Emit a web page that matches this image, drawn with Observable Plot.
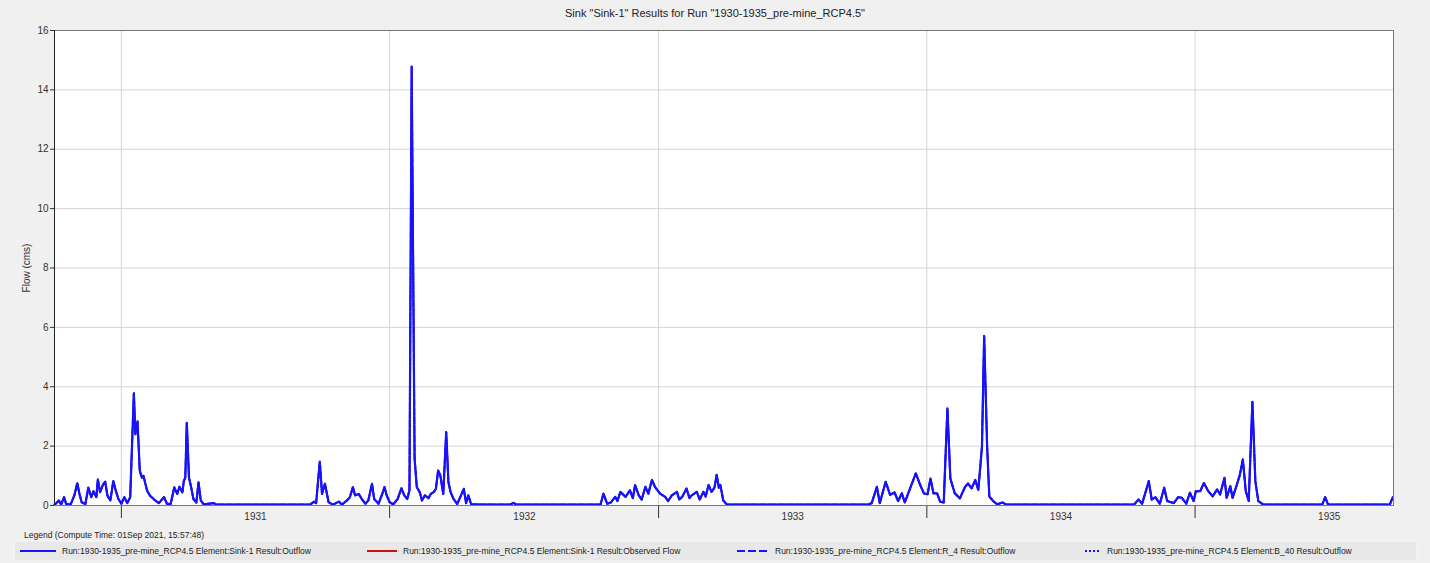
<!DOCTYPE html>
<html><head><meta charset="utf-8">
<script src="https://cdn.jsdelivr.net/npm/d3@7"></script>
<script src="https://cdn.jsdelivr.net/npm/@observablehq/plot@0.6"></script>
<style>
html,body{margin:0;padding:0}
body{background:#f0f0f0;font-family:"Liberation Sans",Arial,sans-serif;width:1430px;height:563px;overflow:hidden;position:relative}
#title{position:absolute;left:0;top:0;width:1430px;height:26px;line-height:27px;text-align:center;font-size:11px;color:#222}
#chart{position:absolute;left:0;top:24px}
#chart svg{display:block}
#legendTitle{position:absolute;left:24px;top:530px;font-size:8.5px;color:#222}
#legend{position:absolute;left:0;top:540px}
</style></head><body>
<div id="title">Sink "Sink-1" Results for Run "1930-1935_pre-mine_RCP4.5"</div>
<div id="chart"></div>
<div id="legendTitle">Legend (Compute Time: 01Sep 2021, 15:57:48)</div>
<div id="legend"></div>
<script>
// ---- data ----
const dates = [
"1930-10-02","1930-10-08","1930-10-11","1930-10-15","1930-10-18","1930-10-24","1930-10-29","1930-11-02","1930-11-05","1930-11-08",
"1930-11-13","1930-11-17","1930-11-21","1930-11-24","1930-11-28","1930-11-30","1930-12-03","1930-12-07","1930-12-10","1930-12-13",
"1930-12-17","1930-12-21","1930-12-25","1930-12-28","1931-01-01","1931-01-05","1931-01-09","1931-01-13","1931-01-18","1931-01-20",
"1931-01-23","1931-01-26","1931-01-29","1931-01-31","1931-02-05","1931-02-09","1931-02-16","1931-02-21","1931-02-28","1931-03-04",
"1931-03-09","1931-03-14","1931-03-18","1931-03-21","1931-03-25","1931-03-27","1931-03-29","1931-03-31","1931-04-03","1931-04-06",
"1931-04-09","1931-04-13","1931-04-16","1931-04-19","1931-04-23","1931-05-07","1931-05-10","1931-09-15","1931-09-20","1931-09-23",
"1931-09-28","1931-10-01","1931-10-05","1931-10-10","1931-10-16","1931-10-24","1931-10-28","1931-11-04","1931-11-08","1931-11-12",
"1931-11-15","1931-11-20","1931-11-24","1931-11-29","1931-12-03","1931-12-08","1931-12-11","1931-12-17","1931-12-22","1931-12-25",
"1931-12-28","1932-01-01","1932-01-06","1932-01-12","1932-01-17","1932-01-21","1932-01-25","1932-01-28","1932-01-31","1932-02-04",
"1932-02-07","1932-02-11","1932-02-14","1932-02-18","1932-02-23","1932-02-26","1932-03-01","1932-03-04","1932-03-07","1932-03-10",
"1932-03-14","1932-03-18","1932-03-21","1932-03-24","1932-03-28","1932-04-02","1932-04-11","1932-04-14","1932-04-17","1932-04-21",
"1932-06-13","1932-06-18","1932-06-21",
"1932-10-14","1932-10-18","1932-10-23","1932-10-28","1932-11-03","1932-11-06","1932-11-10","1932-11-17","1932-11-23","1932-11-27",
"1932-11-30","1932-12-05","1932-12-09","1932-12-14","1932-12-18","1932-12-23","1932-12-27","1933-01-03","1933-01-10","1933-01-14",
"1933-01-19","1933-01-26","1933-01-29","1933-02-02","1933-02-08","1933-02-12","1933-02-15","1933-02-22","1933-02-26","1933-03-03",
"1933-03-06","1933-03-10","1933-03-14","1933-03-18","1933-03-21","1933-03-24","1933-03-26","1933-03-30","1933-04-04",
"1933-10-13","1933-10-18","1933-10-25","1933-10-29","1933-11-06","1933-11-12","1933-11-18","1933-11-23","1933-11-28","1933-12-02",
"1933-12-10","1933-12-17","1933-12-23","1933-12-28","1934-01-02","1934-01-06","1934-01-10","1934-01-15","1934-01-19","1934-01-24",
"1934-01-29","1934-02-02","1934-02-08","1934-02-15","1934-02-22","1934-02-26","1934-03-03","1934-03-08","1934-03-12","1934-03-17",
"1934-03-20","1934-03-24","1934-03-27","1934-04-02","1934-04-07","1934-04-14","1934-04-19",
"1934-10-10","1934-10-16","1934-10-21","1934-10-30","1934-11-03","1934-11-08","1934-11-14","1934-11-20","1934-11-24","1934-12-03",
"1934-12-09","1934-12-14","1934-12-20","1934-12-25","1934-12-30","1935-01-02","1935-01-08","1935-01-13","1935-01-19","1935-01-25",
"1935-01-31","1935-02-04","1935-02-10","1935-02-13","1935-02-18","1935-02-21","1935-02-27","1935-03-03","1935-03-07","1935-03-11",
"1935-03-15","1935-03-20","1935-03-24","1935-03-28","1935-04-04","1935-06-23","1935-06-27","1935-07-01","1935-09-23","1935-09-27"
];
const flow = [
0.02,0.17,0.03,0.28,0.04,0.04,0.34,0.75,0.39,0.11,
0.05,0.60,0.28,0.48,0.28,0.88,0.45,0.70,0.80,0.34,
0.17,0.82,0.45,0.22,0.06,0.28,0.08,0.28,3.78,2.40,
2.83,1.17,0.94,1.00,0.50,0.33,0.17,0.08,0.28,0.06,
0.05,0.61,0.39,0.63,0.44,0.83,0.94,2.78,0.94,0.61,
0.22,0.10,0.78,0.17,0.04,0.08,0.03,0.03,0.13,0.08,
1.48,0.39,0.73,0.11,0.03,0.13,0.03,0.17,0.28,0.62,
0.34,0.39,0.22,0.06,0.17,0.73,0.22,0.06,0.39,0.62,
0.34,0.11,0.04,0.22,0.58,0.34,0.22,0.51,14.78,1.57,
0.62,0.45,0.17,0.34,0.25,0.39,0.45,0.56,1.18,1.01,
0.39,2.47,0.79,0.45,0.22,0.05,0.56,0.08,0.34,0.04,
0.03,0.09,0.03,
0.03,0.40,0.06,0.10,0.29,0.15,0.46,0.29,0.51,0.25,
0.69,0.34,0.20,0.63,0.40,0.86,0.63,0.40,0.29,0.15,
0.34,0.46,0.20,0.29,0.57,0.25,0.34,0.46,0.20,0.46,
0.30,0.69,0.46,0.60,1.03,0.60,0.69,0.17,0.03,
0.03,0.08,0.63,0.08,0.80,0.36,0.44,0.15,0.41,0.10,
0.63,1.08,0.69,0.41,0.38,0.91,0.41,0.41,0.13,0.10,
3.27,0.91,0.41,0.24,0.63,0.74,0.58,0.86,0.52,1.97,
5.71,2.02,0.30,0.13,0.04,0.10,0.03,
0.03,0.20,0.06,0.82,0.20,0.28,0.06,0.60,0.15,0.08,
0.28,0.26,0.06,0.43,0.15,0.48,0.48,0.76,0.48,0.31,
0.54,0.37,0.93,0.26,0.65,0.26,0.71,1.04,1.55,0.48,
0.15,3.49,0.82,0.15,0.03,0.03,0.28,0.03,0.03,0.28
];
const seriesNames = [
"Run:1930-1935_pre-mine_RCP4.5 Element:Sink-1 Result:Outflow",
"Run:1930-1935_pre-mine_RCP4.5 Element:Sink-1 Result:Observed Flow",
"Run:1930-1935_pre-mine_RCP4.5 Element:R_4 Result:Outflow",
"Run:1930-1935_pre-mine_RCP4.5 Element:B_40 Result:Outflow"
];
const yTicks = [0,2,4,6,8,10,12,14,16];
const yearLabels = ["1931","1932","1933","1934","1935"];
const xDomain = ["1930-10-02","1935-09-28"];

// ---- build ----
const data = dates.map((d,i)=>({date:new Date(d+"T00:00Z"), flow:flow[i]}));
const yearStarts = yearLabels.map(y=>new Date(y+"-01-01T00:00Z"));
const yearMids = yearLabels.map(y=>new Date(y+"-07-02T12:00Z"));
const blue = "#1414ff", red = "#d01010";

const chart = Plot.plot({
  width:1430, height:503,
  marginLeft:54, marginRight:37, marginTop:6, marginBottom:22,
  style:{background:"transparent", fontFamily:"'Liberation Sans',Arial,sans-serif", fontSize:"10px", color:"#333"},
  x:{type:"utc", domain:xDomain.map(d=>new Date(d+"T00:00Z"))},
  y:{domain:[0,16]},
  marks:[
    Plot.frame({fill:"white", stroke:"none"}),
    Plot.gridY(yTicks,{stroke:"#d4d4d4", strokeOpacity:1}),
    Plot.gridX(yearStarts,{stroke:"#d4d4d4", strokeOpacity:1}),
    Plot.axisY(yTicks,{tickSize:4, tickPadding:2, fontSize:10, label:"Flow (cms)", labelAnchor:"center", labelArrow:"none", labelOffset:32}),
    Plot.axisX(yearStarts,{tickSize:13, tickFormat:()=>"", label:null}),
    Plot.axisX(yearMids,{tickSize:0, tickPadding:7, fontSize:10, tickFormat:d=>String(d.getUTCFullYear()), label:null}),
    Plot.line(data,{x:"date", y:"flow", stroke:blue, strokeWidth:2.2}),
    Plot.line(data,{x:"date", y:"flow", stroke:red, strokeWidth:1.2}),
    Plot.line(data,{x:"date", y:"flow", stroke:blue, strokeWidth:2, strokeDasharray:"7,2"}),
    Plot.line(data,{x:"date", y:"flow", stroke:blue, strokeWidth:1.2, strokeDasharray:"1.5,1.5"}),
    Plot.frame({stroke:"#777", strokeWidth:1}),
    Plot.ruleX([xDomain[0]].map(d=>new Date(d+"T00:00Z")),{stroke:"#222"})
  ]
});
document.getElementById("chart").appendChild(chart);

// ---- legend ----
const legendX = [20, 367, 737, 1085];
const sampleW = [36, 30, 32, 16];
const dashes = [null, null, "8,3", "2,2"];
const colors = [blue, red, blue, blue];
const ns = "http://www.w3.org/2000/svg";
const svg = d3.create("svg").attr("width",1430).attr("height",23);
svg.append("rect").attr("x",14).attr("y",1).attr("width",1403).attr("height",20).attr("fill","#e8e8e8").attr("stroke","#f8f8f8");
seriesNames.forEach((name,i)=>{
  const g = svg.append("g").attr("transform",`translate(${legendX[i]},11)`);
  g.append("line").attr("x1",0).attr("x2",sampleW[i]).attr("y1",0).attr("y2",0)
    .attr("stroke",colors[i]).attr("stroke-width",2).attr("stroke-dasharray",dashes[i]);
  g.append("text").attr("x",sampleW[i]+6).attr("y",3).attr("font-size","8.5px")
    .attr("font-family","'Liberation Sans',Arial,sans-serif").attr("fill","#222").text(name);
});
document.getElementById("legend").appendChild(svg.node());
</script>
</body></html>
